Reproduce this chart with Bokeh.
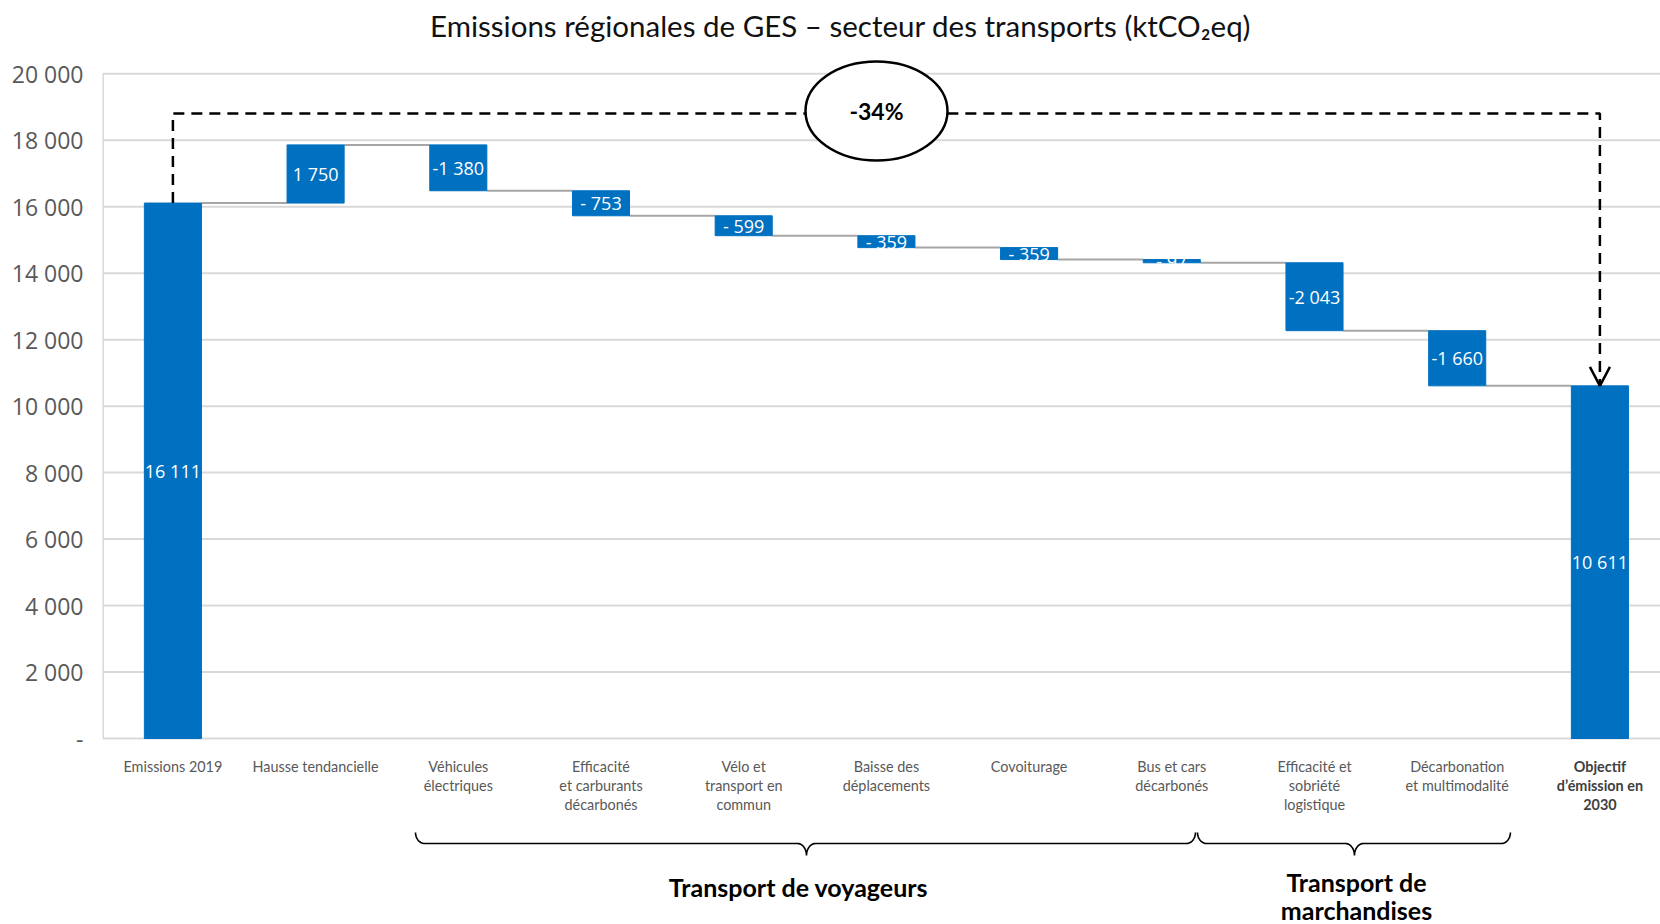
import numpy as np
from bokeh.plotting import figure
from bokeh.models import ColumnDataSource, FixedTicker, Range1d
from bokeh.core.properties import value
from bokeh.embed import file_html
from bokeh.resources import INLINE

# ---------------- data ----------------
categories = ["Emissions 2019", "Hausse tendancielle", "Véhicules\nélectriques",
              "Efficacité\net carburants\ndécarbonés", "Vélo et\ntransport en\ncommun",
              "Baisse des\ndéplacements", "Covoiturage", "Bus et cars\ndécarbonés",
              "Efficacité et\nsobriété\nlogistique", "Décarbonation\net multimodalité",
              "Objectif\nd’émission en\n2030"]
values = [16111, 1750, -1380, -753, -599, -359, -359, -97, -2043, -1660, 10611]
is_total = [True, False, False, False, False, False, False, False, False, False, True]
bar_labels = ["16 111", "1 750", "-1 380", "- 753", "- 599", "- 359", "- 359",
              "- 97", "-2 043", "-1 660", "10 611"]
y_ticks = [0, 2000, 4000, 6000, 8000, 10000, 12000, 14000, 16000, 18000, 20000]
y_tick_labels = ["-", "2 000", "4 000", "6 000", "8 000", "10 000", "12 000",
                 "14 000", "16 000", "18 000", "20 000"]
groups = ["Transport de voyageurs", "Transport de\nmarchandises"]
reduction_label = "-34%"
title = "Emissions régionales de GES – secteur des transports (ktCO₂eq)"

# ---------------- geometry helpers ----------------
W, H = 1660, 924
LEFT = 102            # frame left (px)
STEP = 142.7          # px per category
X0 = 172.4            # px of first category centre
ZERO = 738.0          # px of value 0
PPU = 0.033235        # px per unit (y)
XS = (LEFT - X0) / STEP
XE = XS + (W - LEFT) / STEP
YE = ZERO / PPU
YS = YE - H / PPU

def dx(px_):
    return (px_ - X0) / STEP

def dy(py_):
    return (ZERO - py_) / PPU

def pagex(i):
    return X0 + STEP * i

# waterfall computation
n = len(values)
idx = list(range(n))
bottoms, tops, levels = [], [], []
run = 0
for v, t in zip(values, is_total):
    if t:
        b, tp = 0, v
        run = v
    else:
        b, tp = min(run, run + v), max(run, run + v)
        run = run + v
    bottoms.append(b); tops.append(tp); levels.append(run)

BW = 0.40
src = ColumnDataSource(dict(x=idx, bottom=bottoms, top=tops,
                            mid=[(b + t) / 2 for b, t in zip(bottoms, tops)],
                            lab=bar_labels))

p = figure(width=W, height=H, output_backend="svg", toolbar_location=None,
           x_range=Range1d(XS, XE), y_range=Range1d(YS, YE),
           x_axis_location=None, min_border_left=LEFT, min_border_right=0,
           min_border_top=0, min_border_bottom=0)
p.outline_line_color = None
p.xgrid.visible = False
p.ygrid.visible = False
p.yaxis.ticker = FixedTicker(ticks=y_ticks)
p.yaxis.major_label_overrides = {t: l for t, l in zip(y_ticks, y_tick_labels)}
p.yaxis.axis_line_color = None
p.yaxis.major_tick_line_color = None
p.yaxis.minor_tick_line_color = None
p.yaxis.major_tick_out = 0
p.yaxis.major_label_standoff = 19
p.yaxis.major_label_text_font = "Open Sans"
p.yaxis.major_label_text_font_size = "23px"
p.yaxis.major_label_text_color = "#595959"

# gridlines + axis lines
p.segment(x0=[XS] * len(y_ticks), x1=[XE] * len(y_ticks), y0=y_ticks, y1=y_ticks,
          line_color="#d9d9d9", line_width=2)
p.segment(x0=[XS + 0.5 / STEP], x1=[XS + 0.5 / STEP], y0=[y_ticks[0]], y1=[y_ticks[-1]],
          line_color="#d9d9d9", line_width=2)

# connectors
p.segment(x0=[i + BW / 2 for i in idx[:-1]], x1=[i + 1 - BW / 2 for i in idx[:-1]],
          y0=levels[:-1], y1=levels[:-1], line_color="#a6a6a6", line_width=2)

# bars
p.vbar(x="x", bottom="bottom", top="top", width=BW, source=src,
       fill_color="#0070C0", line_color="#0070C0", line_width=1)

# bar labels
p.text(x="x", y="mid", text="lab", source=src, text_color="white",
       text_font=value("Open Sans"), text_font_size="18px",
       text_align="center", text_baseline="middle")

# category labels (one glyph row per text line)
LINE1, LSTEP = 765.5, 19.2
cx, cyv, ct, cb = [], [], [], []
for i, c in enumerate(categories):
    for k, part in enumerate(c.split("\n")):
        cx.append(i); cyv.append(dy(LINE1 + k * LSTEP)); ct.append(part)
        cb.append(i == n - 1)
reg = ColumnDataSource(dict(x=[a for a, b in zip(cx, cb) if not b],
                            y=[a for a, b in zip(cyv, cb) if not b],
                            t=[a for a, b in zip(ct, cb) if not b]))
bold = ColumnDataSource(dict(x=[a for a, b in zip(cx, cb) if b],
                             y=[a for a, b in zip(cyv, cb) if b],
                             t=[a for a, b in zip(ct, cb) if b]))
p.text(x="x", y="y", text="t", source=reg, text_color="#595959",
       text_font=value("Lato"), text_font_size="14.4px", text_align="center",
       text_baseline="middle")
p.text(x="x", y="y", text="t", source=bold, text_color="#404040",
       text_font=value("Lato"), text_font_style="bold", text_font_size="14.4px",
       text_align="center", text_baseline="middle")

# title
p.text(x=[dx(840)], y=[dy(25)], text=[title], text_color="#111111",
       text_font=value("Lato"), text_font_size="29.5px", text_align="center",
       text_baseline="middle")

# dashed reduction path
DASH_LVL = dy(113)
p.line(x=[idx[0], idx[0], idx[-1], idx[-1]],
       y=[tops[0], DASH_LVL, DASH_LVL, tops[-1]],
       line_color="black", line_width=2.5, line_dash="11 7")
# arrow head
tipx, tipy = idx[-1], tops[-1]
p.line(x=[tipx - 10 / STEP, tipx, tipx + 10 / STEP],
       y=[tipy + 19 / PPU, tipy, tipy + 19 / PPU], line_color="black", line_width=2.5)

# ellipse with percentage
ex, ey = dx(876), dy(110.5)
p.ellipse(x=[ex], y=[ey], width=142, height=99, width_units="screen",
          height_units="screen", fill_color="white", line_color="black", line_width=2.5)
p.text(x=[ex], y=[ey], text=[reduction_label], text_color="black",
       text_font=value("Lato"), text_font_style="bold", text_font_size="23px",
       text_align="center", text_baseline="middle")

# braces
def brace(x0, xt, x1, y_top=832, y_mid=843, y_bot=855, rx=9, rx2=9):
    ry = y_mid - y_top
    ry2 = y_bot - y_mid
    px, py = [], []
    t = np.linspace(np.pi, np.pi / 2, 12)
    px += list(x0 + rx + rx * np.cos(t)); py += list(y_top + ry * np.sin(t))
    t = np.linspace(-np.pi / 2, 0, 12)
    px += list(xt - rx2 + rx2 * np.cos(t)); py += list(y_bot + ry2 * np.sin(t))
    t = np.linspace(np.pi, 1.5 * np.pi, 12)
    px += list(xt + rx2 + rx2 * np.cos(t)); py += list(y_bot + ry2 * np.sin(t))
    t = np.linspace(np.pi / 2, 0, 12)
    px += list(x1 - rx + rx * np.cos(t)); py += list(y_top + ry * np.sin(t))
    return [dx(v) for v in px], [dy(v) for v in py]

brace_spans = [(1.70, 4.44, 7.166), (7.18, 8.28, 9.373)]
bx, by = [], []
for a, tip, b in brace_spans:
    xx, yy = brace(pagex(a), pagex(tip), pagex(b))
    bx.append(xx); by.append(yy)
p.multi_line(xs=bx, ys=by, line_color="black", line_width=1.6)

# group labels
p.text(x=[dx(798)], y=[dy(886)], text=[groups[0]], text_color="black",
       text_font=value("Lato"), text_font_style="bold", text_font_size="25px",
       text_align="center", text_baseline="middle")
g2 = groups[1].split("\n")
p.text(x=[dx(1356), dx(1356)], y=[dy(881), dy(909)], text=g2, text_color="black",
       text_font=value("Lato"), text_font_style="bold", text_font_size="25px",
       text_align="center", text_baseline="middle")

open("out.html", "w").write(file_html(p, INLINE))
